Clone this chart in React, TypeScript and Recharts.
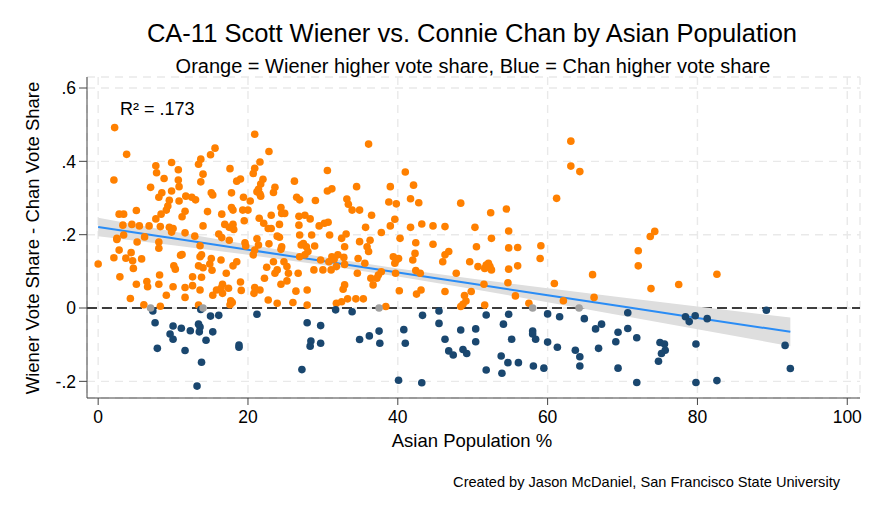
import React from "react";
import { ComposedChart, Scatter, Line, Area, XAxis, YAxis, CartesianGrid } from "recharts";

// precincts where Wiener's share was higher: [asian %, wiener - chan]
const wienerPoints: [number, number][] = [
  [2.2, .492], [3.8, .419], [2.1, .349], [7.7, .388], [7.8, .369], [9.8, .397], [10.7, .377], [8.8, .353],
  [7.0, .329], [10.7, .349], [10.8, .331], [8.5, .314], [8.1, .302], [9.8, .319], [9.5, .294], [10.8, .292],
  [11.7, .305], [12.5, .302], [13.0, .295], [9.1, .267], [8.4, .256], [7.7, .243], [11.6, .264], [11.2, .249],
  [5.1, .266], [2.8, .256], [3.4, .256], [13.7, .406], [13.4, .392], [15.0, .418], [15.6, .436], [14.0, .365],
  [13.7, .344], [17.6, .380], [18.5, .346], [19.0, .352], [15.1, .314], [17.8, .314], [19.4, .302], [14.6, .263],
  [18.0, .267], [19.3, .267], [16.5, .256], [20.0, .267], [3.3, .226], [4.5, .228], [5.5, .224], [6.8, .224],
  [8.3, .222], [9.5, .220], [10.0, .217], [11.6, .205], [14.0, .224], [16.9, .228], [17.5, .220], [18.0, .228],
  [19.5, .238], [3.4, .199], [2.5, .190], [6.2, .194], [12.9, .196], [16.1, .202], [9.3, .278], [15.3, .308],
  [17.8, .274], [18.1, .214], [9.8, .207],
  [0.0, .120], [2.5, .187], [2.8, .158], [2.1, .137], [3.7, .136], [4.4, .151], [4.6, .129], [4.7, .108],
  [5.8, .134], [5.2, .180], [2.9, .085], [5.1, .065], [4.3, .026], [6.5, .072], [6.6, .058], [6.1, .009],
  [8.1, .180], [8.1, .163], [8.2, .090], [8.1, .065], [9.1, .035], [8.3, .005], [10.0, .058], [10.1, .115],
  [10.3, .106], [11.0, .144], [11.2, .146], [11.6, .056], [11.6, .029], [12.6, .061], [12.6, .085], [13.6, .170],
  [13.6, .140], [13.8, .145], [13.4, .115], [14.0, .110], [13.8, .084], [13.6, .049], [13.4, .008], [15.1, .135],
  [14.9, .120], [16.4, .131], [15.2, .103], [17.1, .095], [18.0, .115], [18.5, .126], [16.6, .065], [16.4, .054],
  [15.8, .049], [15.3, .035], [17.4, .054], [16.6, .040], [19.0, .071], [19.1, .048], [17.7, .020], [17.9, .015],
  [17.6, .009], [19.6, .178], [19.7, .169], [16.5, .192], [17.5, .185],
  [20.9, .474], [22.8, .427], [21.6, .398], [20.9, .381], [20.7, .367], [22.0, .351], [21.7, .338], [21.4, .324],
  [21.6, .311], [21.2, .317], [21.7, .305], [23.6, .329], [23.4, .315], [20.3, .292], [21.5, .245], [22.1, .231],
  [22.7, .217], [23.1, .253], [24.2, .228], [24.4, .274], [24.5, .258], [24.9, .258], [23.1, .217], [23.9, .196],
  [26.2, .346], [26.5, .302], [26.9, .295], [29.0, .293], [30.6, .375], [30.6, .319], [31.2, .325], [26.8, .250],
  [27.6, .253], [28.3, .243], [26.8, .226], [26.9, .199], [28.5, .199], [29.5, .224], [30.2, .231], [30.7, .234],
  [30.9, .199], [33.2, .297], [33.4, .283], [33.9, .267], [34.9, .267], [34.5, .331], [36.1, .447], [36.5, .253],
  [35.7, .220], [37.8, .206], [39.0, .331], [38.8, .289], [39.8, .284], [39.6, .242], [39.0, .224], [41.0, .371],
  [42.1, .335], [41.7, .298], [42.8, .287], [41.7, .220], [43.2, .229], [33.1, .202],
  [21.2, .189], [21.4, .172], [20.9, .158], [20.7, .145], [22.8, .175], [24.2, .193], [24.5, .167], [24.4, .160],
  [23.4, .126], [22.5, .111], [23.9, .104], [23.6, .095], [24.8, .126], [25.2, .113], [25.4, .095], [25.2, .074],
  [24.4, .065], [22.2, .081], [20.9, .056], [21.6, .049], [20.8, .040], [22.7, .022], [23.9, .013], [26.0, .015],
  [26.4, .046], [26.7, .095], [27.1, .172], [27.4, .176], [27.8, .167], [28.0, .154], [27.6, .145], [26.9, .140],
  [28.9, .169], [27.9, .049], [27.9, .008], [28.8, .104], [30.0, .104], [29.7, .131], [30.8, .126], [31.2, .140],
  [31.5, .133], [32.0, .145], [32.8, .138], [32.9, .119], [32.9, .167], [32.5, .190], [31.8, .113], [31.1, .104],
  [32.9, .063], [32.7, .051], [31.8, .013], [32.5, .017], [33.3, .025], [34.4, .025], [35.4, .025], [34.6, .095],
  [34.7, .135], [34.9, .181], [35.9, .167], [36.3, .185], [36.1, .154], [35.6, .122], [36.4, .081], [36.7, .063],
  [37.2, .081], [37.4, .090], [37.8, .099], [39.4, .140], [39.8, .131], [40.1, .135], [39.6, .122], [39.7, .095],
  [42.3, .149], [42.0, .131], [42.4, .102], [42.4, .178], [40.3, .190], [40.2, .047], [42.5, .038], [43.1, .049],
  [38.4, .004],
  [43.0, .095], [44.7, .224], [46.3, .222], [48.4, .286], [44.7, .174], [46.8, .154], [46.3, .145], [46.0, .126],
  [47.8, .095], [46.3, .045], [49.6, .126], [50.3, .220], [50.5, .167], [50.7, .113], [51.8, .117], [52.3, .113],
  [52.5, .104], [51.6, .108], [52.1, .122], [52.4, .260], [52.5, .190], [51.5, .065], [49.8, .045], [48.9, .034],
  [49.1, .019], [48.7, .010], [48.4, .004], [51.6, .008], [54.5, .270], [54.8, .210], [54.8, .164], [56.0, .165],
  [54.8, .106], [56.0, .115], [54.7, .069], [55.7, .033], [57.5, .013], [59.1, .170], [59.0, .135], [61.2, .299],
  [63.1, .455], [63.1, .387], [64.3, .372], [60.9, .067], [62.1, .020], [66.0, .091], [66.2, .029],
  [74.3, .209], [73.7, .195], [72.1, .156], [72.1, .115], [73.8, .053], [77.5, .064], [82.6, .092],
];

// precincts where Chan's share was higher
const chanPoints: [number, number][] = [
  [7.3, -.008], [7.6, -.040], [7.9, -.110], [10.0, -.049], [9.6, -.071], [10.0, -.085], [11.1, -.055], [11.6, -.116],
  [12.3, -.062], [13.4, -.044], [13.6, -.052], [13.5, -.065], [14.4, -.088], [15.3, -.065], [15.0, -.022], [16.1, -.020],
  [13.7, -.004], [13.8, -.148], [13.2, -.213], [18.8, -.101], [18.8, -.107],
  [21.2, -.017], [27.9, -.040], [29.7, -.048], [28.4, -.090], [28.3, -.104], [29.7, -.096], [27.2, -.168], [31.7, -.005],
  [33.9, -.010], [34.9, -.086], [36.2, -.076], [37.5, -.063], [37.6, -.096], [40.8, -.059], [41.0, -.096], [40.1, -.197],
  [43.2, -.204], [43.3, -.020],
  [45.5, -.008], [45.5, -.042], [46.3, -.085], [46.8, -.117], [47.4, -.128], [48.4, -.060], [48.7, -.113], [49.2, -.124],
  [50.4, -.057], [50.4, -.092], [51.8, -.019], [51.8, -.169], [53.8, -.131], [53.9, -.178], [54.7, -.149], [56.1, -.149],
  [54.1, -.044], [54.8, -.017], [55.2, -.085], [58.0, -.063], [58.0, -.071], [58.4, -.085], [58.1, -.158], [59.5, -.164],
  [60.0, -.016], [61.6, -.024], [60.0, -.093], [61.3, -.107], [63.7, -.115], [64.3, -.133], [64.3, -.158], [64.9, -.029],
  [66.4, -.057], [67.2, -.044], [66.8, -.110], [69.1, -.092], [69.4, -.066], [69.4, -.164],
  [70.7, -.013], [70.7, -.056], [71.9, -.081], [71.9, -.203], [75.0, -.094], [75.6, -.098], [75.7, -.115], [75.2, -.124],
  [74.8, -.145], [78.4, -.024], [79.7, -.021], [78.9, -.037], [81.3, -.029], [79.8, -.098], [79.8, -.203], [82.6, -.198],
  [89.2, -.006], [91.7, -.102], [92.4, -.165],
];

// tied precincts
const tiePoints: [number, number][] = [[7.0, 0], [14.0, 0], [37.5, 0], [58.0, 0], [64.2, 0]];

// linear fit with 95% CI
const fitX = [0, 10, 20, 30, 40, 50, 60, 70, 80, 92.4];
const fitY = [.221, .190, .159, .128, .097, .066, .035, .004, -.027, -.065];
const fitHalfWidth = [.025, .019, .014, .011, .011, .014, .019, .025, .031, .039];

const xTicks = [0, 20, 40, 60, 80, 100];
const yTicks = [-.2, 0, .2, .4, .6];

const toRows = (pts: [number, number][]) => pts.map(([x, y]) => ({ x, y }));
const fitRows = fitX.map((x, i) => ({ x, y: fitY[i] }));
const bandRows = fitX.map((x, i) => ({ x, band: [fitY[i] - fitHalfWidth[i], fitY[i] + fitHalfWidth[i]] }));
const zeroRows = [{ x: -1.49, y: 0 }, { x: 101.7, y: 0 }];

const FONT = '"Liberation Sans", Arial, Helvetica, sans-serif';

const dot = (color: string) => (p: any) => <circle cx={p.cx} cy={p.cy} r={3.8} fill={color} />;

const fmtY = (v: number) => (v === 0 ? "0" : (v < 0 ? "-" : "") + String(Math.abs(v)).replace(/^0/, ""));

export default function App() {
  return (
    <div style={{ position: "absolute", left: 0, top: 0, width: 878, height: 527, background: "#fff" }}>
      <ComposedChart width={878} height={527} margin={{ top: 77, right: 18, bottom: 99, left: 37 }}>
        <CartesianGrid stroke="#e9e9e9" strokeWidth={1.4} strokeDasharray="8 6" />
        <XAxis
          type="number"
          dataKey="x"
          domain={[-1.49, 101.7]}
          ticks={xTicks}
          allowDataOverflow
          height={30}
          tickSize={7}
          tickMargin={6}
          stroke="#444"
          tick={{ fill: "#000", fontSize: 17.5, fontFamily: FONT }}
        />
        <YAxis
          type="number"
          domain={[-0.2454, 0.63]}
          ticks={yTicks}
          allowDataOverflow
          width={50}
          tickSize={8}
          tickMargin={3}
          stroke="#444"
          tickFormatter={fmtY}
          tick={{ fill: "#000", fontSize: 17.5, fontFamily: FONT }}
        />
        {/* zero line drawn as an unfilled area so the CI band sits over it */}
        <Area data={zeroRows} dataKey="y" type="linear" stroke="#000" strokeWidth={1.6} strokeDasharray="10 5" fill="none" dot={false} activeDot={false} isAnimationActive={false} />
        <Area data={bandRows} dataKey="band" type="linear" stroke="none" fill="#dedede" fillOpacity={1} activeDot={false} isAnimationActive={false} />
        <Line data={fitRows} dataKey="y" stroke="#2a8cf5" strokeWidth={2} dot={false} activeDot={false} isAnimationActive={false} />
        <Scatter data={toRows(wienerPoints)} dataKey="y" shape={dot("#ff8000")} isAnimationActive={false} />
        <Scatter data={toRows(chanPoints)} dataKey="y" shape={dot("#1a476f")} isAnimationActive={false} />
        <Scatter data={toRows(tiePoints)} dataKey="y" shape={dot("#a0a0a0")} isAnimationActive={false} />
      </ComposedChart>
      <svg width={878} height={527} style={{ position: "absolute", left: 0, top: 0, pointerEvents: "none" }} fontFamily={FONT}>
        <text x={472} y={42} textAnchor="middle" fontSize={25.5} fill="#000">
          CA-11 Scott Wiener vs. Connie Chan by Asian Population
        </text>
        <text x={473} y={73} textAnchor="middle" fontSize={20} fill="#000">
          Orange = Wiener higher vote share, Blue = Chan higher vote share
        </text>
        <text x={120} y={115} fontSize={18} fill="#000">R² = .173</text>
        <text transform="translate(39,238) rotate(-90)" textAnchor="middle" fontSize={18.5} fill="#000">
          Wiener Vote Share - Chan Vote Share
        </text>
        <text x={472} y={447} textAnchor="middle" fontSize={18.5} fill="#000">Asian Population %</text>
        <text x={840} y={487} textAnchor="end" fontSize={14.6} fill="#000">
          Created by Jason McDaniel, San Francisco State University
        </text>
      </svg>
    </div>
  );
}
